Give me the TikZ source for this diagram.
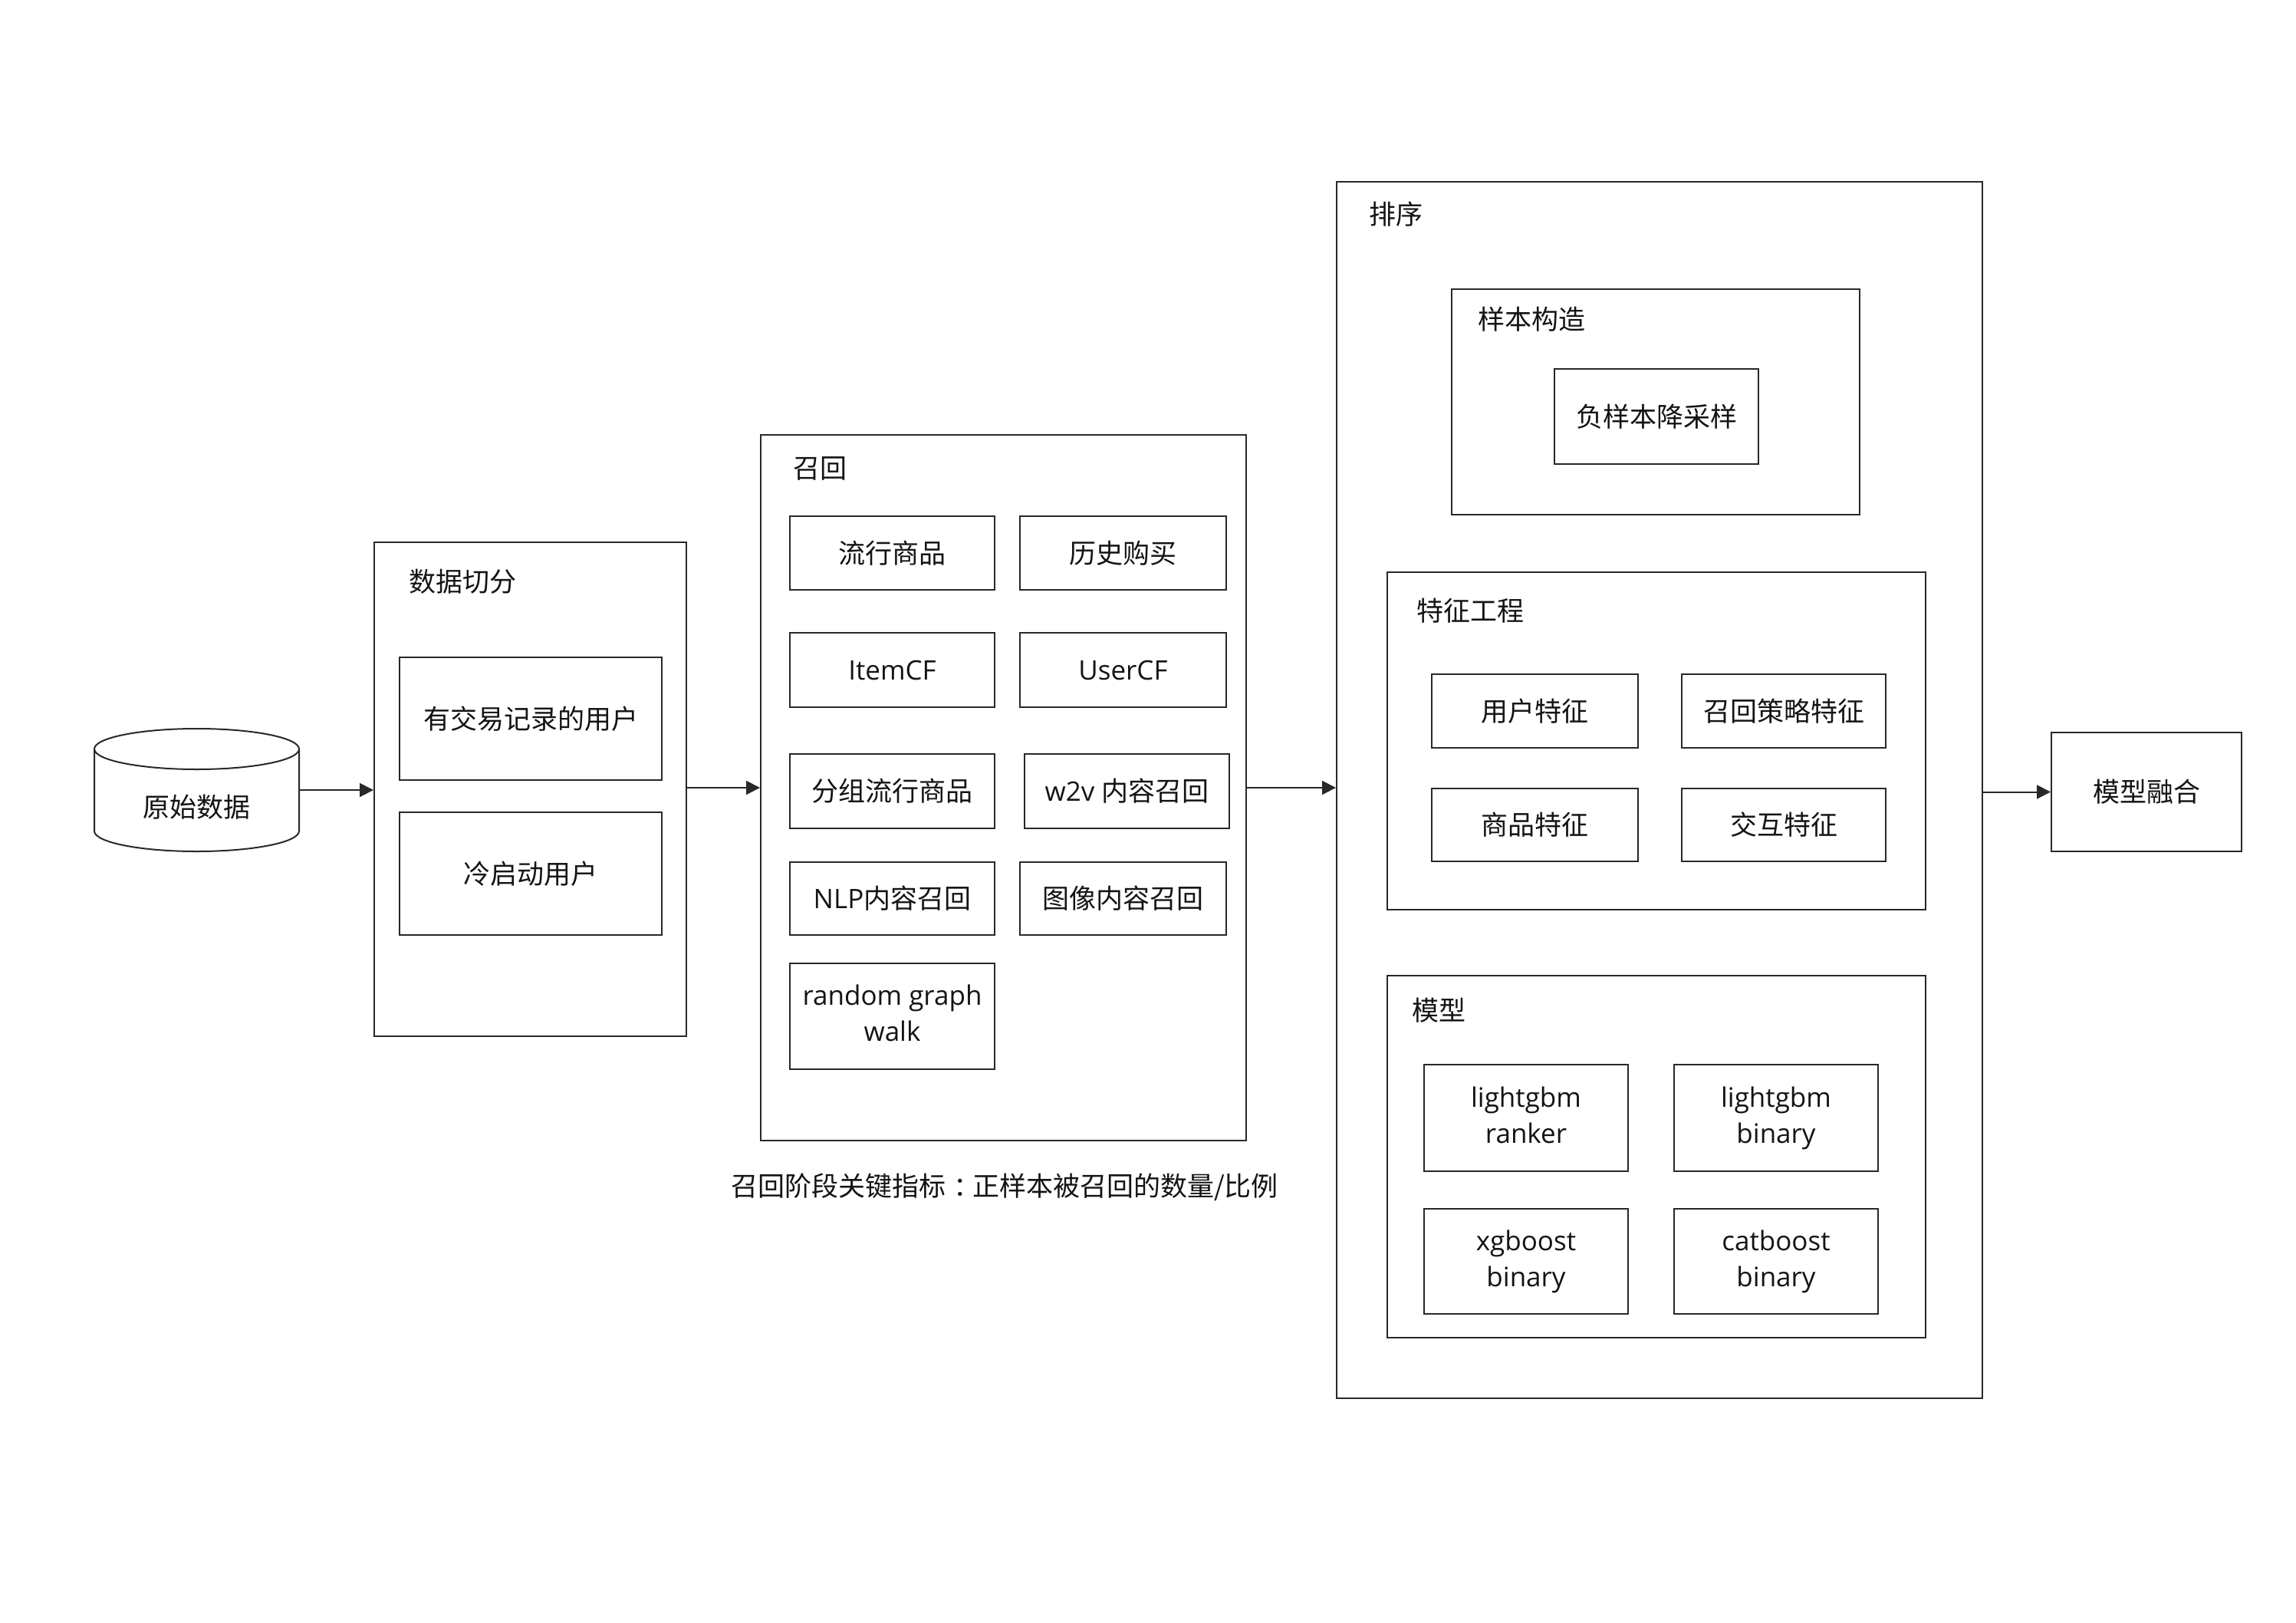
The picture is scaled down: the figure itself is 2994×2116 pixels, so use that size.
\documentclass[tikz,border=0pt]{standalone}
\usepackage{fontspec}
\setmainfont{Open Sans}
\newfontfamily\cjk{Noto Sans CJK SC}
\usetikzlibrary{arrows.meta}
\definecolor{linec}{RGB}{40,40,40}
\definecolor{textc}{RGB}{20,20,20}
\begin{document}
\begin{tikzpicture}[x=1pt,y=1pt,
  every node/.style={font=\fontsize{35}{47}\selectfont, text=textc},
  box/.style={draw=linec, line width=2pt, inner sep=0pt, align=center},
  ttl/.style={anchor=west, inner sep=0pt},
  conn/.style={draw=linec, line width=2pt, -{Triangle[length=18pt,width=18pt]}}
]
\useasboundingbox[fill=white] (0,0) rectangle (2994,-2116);

% raw data cylinder
\node[inner sep=0pt, minimum width=267pt, minimum height=160pt] (db) at (256.5,-1030) {};
\draw[linec, line width=2pt, fill=white] (123,-976.5) -- (123,-1083.5) arc[start angle=180, end angle=360, x radius=133.5, y radius=26.5] -- (390,-976.5);
\draw[linec, line width=2pt] (256.5,-976.5) ellipse [x radius=133.5, y radius=26.5];
\node (dbt) at (256.5,-1052) {\cjk 原始数据};

% data split
\node[box, minimum width=407pt, minimum height=644pt] (split) at (691.5,-1029) {};
\node[ttl] (splitt) at (533,-758) {\cjk 数据切分};
\node[box, minimum width=342pt, minimum height=160pt] (u1) at (692,-937) {\cjk 有交易记录的用户};
\node[box, minimum width=342pt, minimum height=160pt] (u2) at (692,-1139) {\cjk 冷启动用户};

% recall
\node[box, minimum width=633pt, minimum height=920pt] (recall) at (1308.5,-1027) {};
\node[ttl] (recallt) at (1034,-610.5) {\cjk 召回};
\node[box, minimum width=267pt, minimum height=96pt] (r1) at (1163.5,-721) {\cjk 流行商品};
\node[box, minimum width=269pt, minimum height=96pt] (r2) at (1464.5,-721) {\cjk 历史购买};
\node[box, minimum width=267pt, minimum height=97pt] (r3) at (1163.5,-873.5) {ItemCF};
\node[box, minimum width=269pt, minimum height=97pt] (r4) at (1464.5,-873.5) {UserCF};
\node[box, minimum width=267pt, minimum height=97pt] (r5) at (1163.5,-1031.5) {\cjk 分组流行商品};
\node[box, minimum width=267pt, minimum height=97pt] (r6) at (1469.5,-1031.5) {w2v {\cjk 内容召回}};
\node[box, minimum width=267pt, minimum height=95pt] (r7) at (1163.5,-1171.5) {NLP{\cjk 内容召回}};
\node[box, minimum width=269pt, minimum height=95pt] (r8) at (1464.5,-1171.5) {\cjk 图像内容召回};
\node[box, minimum width=267pt, minimum height=138pt] (r9) at (1163.5,-1325) {random graph\strut\\walk\strut};
\node (cap) at (1310,-1548) {\cjk 召回阶段关键指标\kern0.3em：\kern-0.3em正样本被召回的数量/比例};

% ranking
\node[box, minimum width=842pt, minimum height=1586pt] (rank) at (2164,-1030) {};
\node[ttl] (rankt) at (1785,-279) {\cjk 排序};
\node[box, minimum width=532pt, minimum height=294pt] (sample) at (2159,-524) {};
\node[ttl] (samplet) at (1927,-416) {\cjk 样本构造};
\node[box, minimum width=266pt, minimum height=124pt] (neg) at (2160,-543) {\cjk 负样本降采样};
\node[box, minimum width=702pt, minimum height=440pt] (feat) at (2160,-966) {};
\node[ttl] (featt) at (1847,-796) {\cjk 特征工程};
\node[box, minimum width=269pt, minimum height=96pt] (f1) at (2001.5,-927) {\cjk 用户特征};
\node[box, minimum width=266pt, minimum height=96pt] (f2) at (2326,-927) {\cjk 召回策略特征};
\node[box, minimum width=269pt, minimum height=95pt] (f3) at (2001.5,-1075.5) {\cjk 商品特征};
\node[box, minimum width=266pt, minimum height=95pt] (f4) at (2326,-1075.5) {\cjk 交互特征};
\node[box, minimum width=702pt, minimum height=472pt] (model) at (2160,-1508) {};
\node[ttl] (modelt) at (1841,-1317) {\cjk 模型};
\node[box, minimum width=266pt, minimum height=139pt] (m1) at (1990,-1457.5) {lightgbm\strut\\ranker\strut};
\node[box, minimum width=266pt, minimum height=139pt] (m2) at (2316,-1457.5) {lightgbm\strut\\binary\strut};
\node[box, minimum width=266pt, minimum height=137pt] (m3) at (1990,-1644.5) {xgboost\strut\\binary\strut};
\node[box, minimum width=266pt, minimum height=137pt] (m4) at (2316,-1644.5) {catboost\strut\\binary\strut};

% fusion
\node[box, minimum width=248pt, minimum height=155pt] (fuse) at (2799,-1032.5) {\cjk 模型融合};

% connectors
\draw[conn] (db.east) -- (db.east -| split.west);
\draw[conn] (split.east |- recall.west) -- (recall.west);
\draw[conn] (recall.east) -- (recall.east -| rank.west);
\draw[conn] (fuse.west -| rank.east) -- (fuse.west);
\end{tikzpicture}
\end{document}
